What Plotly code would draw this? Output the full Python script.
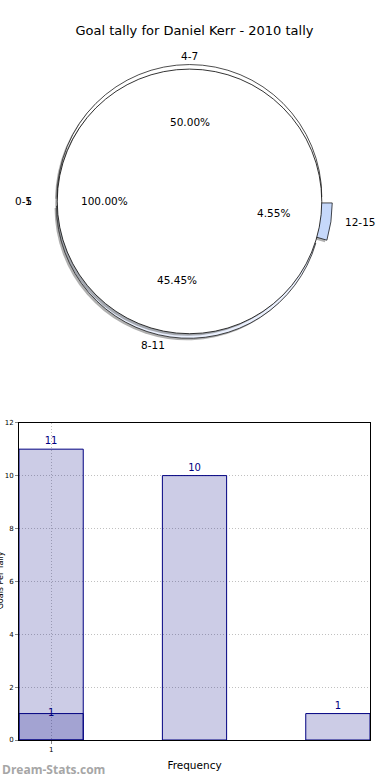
import math
import plotly.graph_objects as go

# ---------------- data ----------------
title_text = "Goal tally for Daniel Kerr - 2010 tally"

# outer pie (clockwise order as displayed, starting at 9 o'clock)
pie_labels = ["0-5", "4-7", "12-15", "8-11"]
pie_values = [0, 11, 1, 10]
pie_colors = ["#ffffff", "#ffffff", "#c6d8fa", "#eaf0fe"]
pie_pull = [0.0, 0.035, 0.08, 0.035]

# inner pie
inner_labels = ["1"]
inner_values = [1]

# bar chart
bar_x = [0, 1, 2]
bar_total = [11, 10, 1]
bar_part_x = [0]
bar_part = [1]
x_tickvals = [0]
x_ticktext = ["1"]
y_tickvals = [0, 2, 4, 6, 8, 10, 12]

# ---------------- geometry ----------------
W, H = 390, 780
ML, MR, MT, MB = 19, 20, 0, 40
PW, PH = W - ML - MR, H - MT - MB


def fx(px):
    return (px - ML) / PW


def fy(py):
    return (H - MB - py) / PH


CX, CY = 189.5, 198.5      # pie centre in pixels
R = 133.0                  # inner pie radius
RX, RY = 141.0, 133.0      # text placement radii
maxpull = max(pie_pull)
Rdom = R * (1 + maxpull)


def dom(cx, cy, r):
    return dict(x=[fx(cx - r), fx(cx + r)], y=[fy(cy + r), fy(cy - r)])


SH = 2.0  # shadow offset
shadow = "rgba(80,80,80,0.45)"
common = dict(sort=False, direction="clockwise", rotation=-90,
              textinfo="none", hoverinfo="skip", showlegend=False)

fig = go.Figure()
# outer shadow
fig.add_trace(go.Pie(labels=pie_labels, values=pie_values, pull=pie_pull,
                     domain=dom(CX - SH, CY + SH, Rdom),
                     marker=dict(colors=[shadow] * 4, line=dict(width=0)), **common))
# outer ring
fig.add_trace(go.Pie(labels=pie_labels, values=pie_values, pull=pie_pull,
                     domain=dom(CX, CY, Rdom),
                     marker=dict(colors=pie_colors, line=dict(color="black", width=0.7)),
                     **common))
# inner shadow
fig.add_trace(go.Pie(labels=inner_labels, values=inner_values,
                     domain=dom(CX - SH, CY + SH, R),
                     marker=dict(colors=[shadow], line=dict(width=0)), **common))
# inner pie
fig.add_trace(go.Pie(labels=inner_labels, values=inner_values,
                     domain=dom(CX, CY, R),
                     marker=dict(colors=["#ffffff"], line=dict(color="black", width=0.8)),
                     **common))

annotations = []
font_pie = dict(family="DejaVu Sans", size=10.5, color="black")


def add_pie_text(labels, values, start):
    total = sum(values)
    cum = 0.0
    for lab, v in zip(labels, values):
        frac = v / total
        mid = start - (cum + frac / 2) * 360.0
        cum += frac
        a = math.radians(mid)
        # label at 1.1 radius
        lx = CX + 1.1 * RX * math.cos(a)
        ly = CY - 1.1 * RY * math.sin(a)
        c = math.cos(a)
        anchor = "left" if c > 1e-6 else ("right" if c < -1e-6 else "center")
        annotations.append(dict(x=fx(lx), y=fy(ly), xref="paper", yref="paper",
                                text=lab, showarrow=False, xanchor=anchor,
                                yanchor="middle", font=font_pie))
        if v > 0:
            px_ = CX + 0.6 * RX * math.cos(a)
            py_ = CY - 0.6 * RY * math.sin(a)
            annotations.append(dict(x=fx(px_), y=fy(py_), xref="paper", yref="paper",
                                    text=f"{frac * 100:.2f}%", showarrow=False,
                                    xanchor="center", yanchor="middle", font=font_pie))


add_pie_text(pie_labels, pie_values, 180.0)
add_pie_text(inner_labels, inner_values, 360.0)

# ---------------- bars ----------------
bar_fill = "rgba(0,0,128,0.2)"
navy = "#000080"
fig.add_trace(go.Bar(x=bar_x, y=bar_total, width=0.448, marker=dict(color=bar_fill,
                     line=dict(color=navy, width=1)),
                     text=[str(v) for v in bar_total], textposition="outside",
                     textfont=dict(family="DejaVu Sans", size=10, color=navy),
                     cliponaxis=False, hoverinfo="skip", showlegend=False))
fig.add_trace(go.Bar(x=bar_part_x, y=bar_part, width=0.448, marker=dict(color=bar_fill,
                     line=dict(color=navy, width=1)),
                     hoverinfo="skip", showlegend=False))
for xv, yv in zip(bar_part_x, bar_part):
    annotations.append(dict(x=xv, y=yv, xref="x", yref="y", text=str(yv), showarrow=False,
                            yanchor="middle", yshift=1,
                            font=dict(family="DejaVu Sans", size=10, color=navy)))

# y-axis title (cut off at the left edge, as in the reference)
annotations.append(dict(x=fx(0.5), y=fy(580), xref="paper", yref="paper",
                        text="Goals Per Tally", textangle=-90, showarrow=False,
                        xanchor="center", yanchor="middle",
                        font=dict(family="DejaVu Sans", size=8, color="black")))
# watermark
annotations.append(dict(x=fx(0), y=fy(770), xref="paper", yref="paper",
                        text="Dream-Stats.com", showarrow=False, xanchor="left",
                        yanchor="middle",
                        font=dict(family="Open Sans", size=12, color="#a6a6a6", weight="bold")))

grid = dict(showgrid=True, gridcolor="#c0c0c0", griddash="1px,2px", gridwidth=1)
fig.update_layout(
    width=W, height=H, margin=dict(l=ML, r=MR, t=MT, b=MB),
    paper_bgcolor="white", plot_bgcolor="white", barmode="overlay",
    title=dict(text=title_text, x=0.5, xref="paper", xanchor="center",
               y=1 - 30 / H, yref="container", yanchor="middle",
               font=dict(family="DejaVu Sans", size=13, color="black")),
    annotations=annotations,
    xaxis=dict(domain=[0, 1], range=[-0.224, 2.224], tickmode="array",
               tickvals=x_tickvals, ticktext=x_ticktext, ticks="outside", ticklen=3,
               tickcolor="#888", tickfont=dict(family="DejaVu Sans", size=7, color="black"),
               showline=True, linecolor="black", linewidth=1, mirror=True, zeroline=False,
               title=dict(text="Frequency", standoff=8,
                          font=dict(family="DejaVu Sans", size=10.5, color="black")),
               **grid),
    yaxis=dict(domain=[0, (H - MB - 421) / PH], range=[0, 12], tickmode="array",
               tickvals=y_tickvals, ticks="outside", ticklen=3, tickcolor="#888",
               tickfont=dict(family="DejaVu Sans", size=7, color="black"),
               showline=True, linecolor="black", linewidth=1, mirror=True, zeroline=False,
               **grid),
)

fig.write_html("out.html", config={"displayModeBar": False},
               post_script="document.body.style.margin='0';document.body.style.overflow='hidden';")
